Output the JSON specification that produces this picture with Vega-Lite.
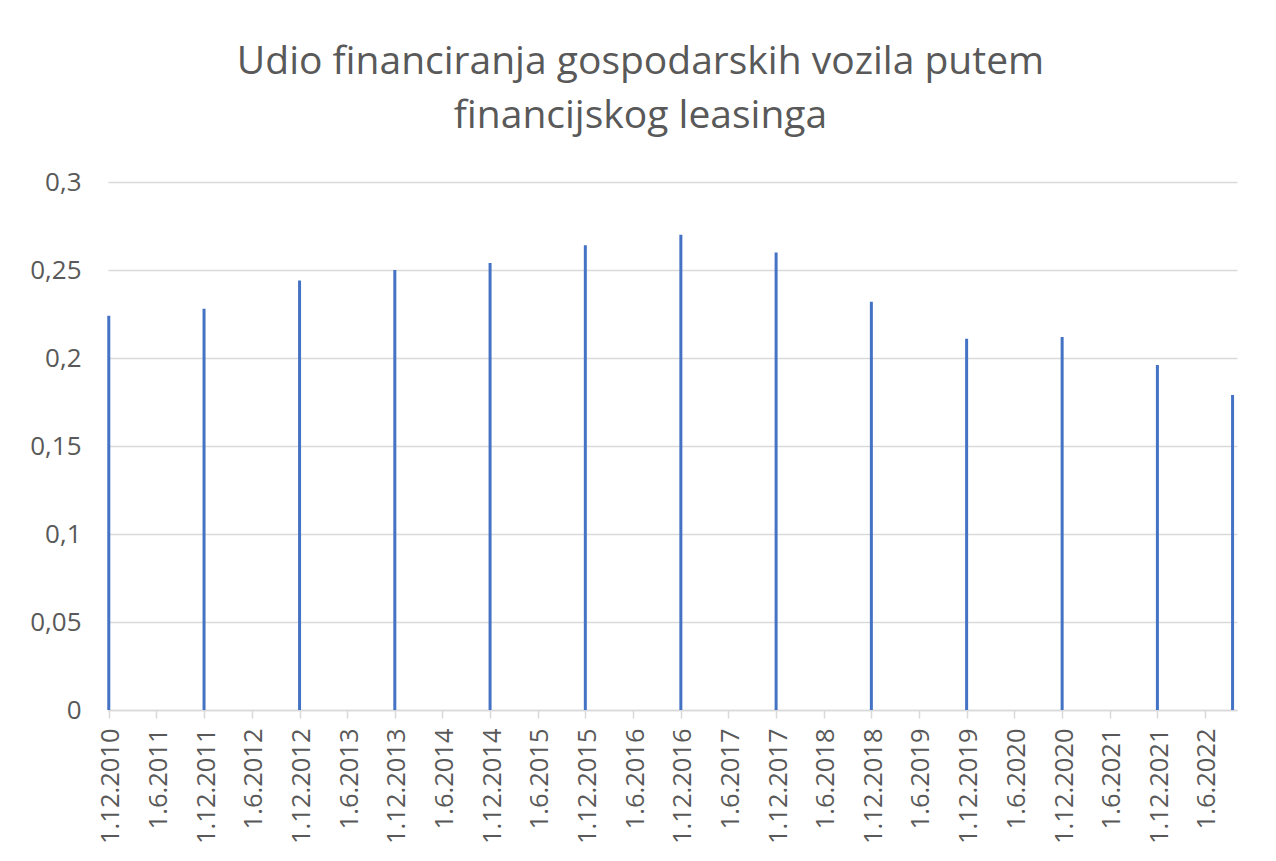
{
  "$schema": "https://vega.github.io/schema/vega-lite/v6.json",
  "width": 1129,
  "height": 528,
  "autosize": {"type": "none"},
  "padding": {"left": 108, "top": 182, "right": 39, "bottom": 151},
  "background": "white",
  "title": {
    "text": ["Udio financiranja gospodarskih vozila putem", "financijskog leasinga"],
    "font": "Open Sans",
    "fontSize": 39,
    "fontWeight": "normal",
    "color": "#595959",
    "anchor": "middle",
    "dx": -32,
    "lineHeight": 54,
    "offset": 33
  },
  "data": {
    "values": [
      {"date": "2010-12-01", "share": 0.224},
      {"date": "2011-12-01", "share": 0.228},
      {"date": "2012-12-01", "share": 0.244},
      {"date": "2013-12-01", "share": 0.25},
      {"date": "2014-12-01", "share": 0.254},
      {"date": "2015-12-01", "share": 0.264},
      {"date": "2016-12-01", "share": 0.27},
      {"date": "2017-12-01", "share": 0.26},
      {"date": "2018-12-01", "share": 0.232},
      {"date": "2019-12-01", "share": 0.211},
      {"date": "2020-12-01", "share": 0.212},
      {"date": "2021-12-01", "share": 0.196},
      {"date": "2022-09-15", "share": 0.179}
    ],
    "format": {"parse": {"date": "utc:'%Y-%m-%d'"}}
  },
  "mark": {"type": "bar", "size": 3, "color": "#4472C4"},
  "encoding": {
    "x": {
      "field": "date",
      "type": "temporal",
      "scale": {
        "type": "utc",
        "padding": 0,
        "domain": [
          {"year": 2010, "month": 11, "date": 28, "utc": true},
          {"year": 2022, "month": 10, "date": 2, "utc": true}
        ]
      },
      "axis": {
        "title": null,
        "values": [
          {"year": 2010, "month": 12, "date": 1, "utc": true},
          {"year": 2011, "month": 6, "date": 1, "utc": true},
          {"year": 2011, "month": 12, "date": 1, "utc": true},
          {"year": 2012, "month": 6, "date": 1, "utc": true},
          {"year": 2012, "month": 12, "date": 1, "utc": true},
          {"year": 2013, "month": 6, "date": 1, "utc": true},
          {"year": 2013, "month": 12, "date": 1, "utc": true},
          {"year": 2014, "month": 6, "date": 1, "utc": true},
          {"year": 2014, "month": 12, "date": 1, "utc": true},
          {"year": 2015, "month": 6, "date": 1, "utc": true},
          {"year": 2015, "month": 12, "date": 1, "utc": true},
          {"year": 2016, "month": 6, "date": 1, "utc": true},
          {"year": 2016, "month": 12, "date": 1, "utc": true},
          {"year": 2017, "month": 6, "date": 1, "utc": true},
          {"year": 2017, "month": 12, "date": 1, "utc": true},
          {"year": 2018, "month": 6, "date": 1, "utc": true},
          {"year": 2018, "month": 12, "date": 1, "utc": true},
          {"year": 2019, "month": 6, "date": 1, "utc": true},
          {"year": 2019, "month": 12, "date": 1, "utc": true},
          {"year": 2020, "month": 6, "date": 1, "utc": true},
          {"year": 2020, "month": 12, "date": 1, "utc": true},
          {"year": 2021, "month": 6, "date": 1, "utc": true},
          {"year": 2021, "month": 12, "date": 1, "utc": true},
          {"year": 2022, "month": 6, "date": 1, "utc": true}
        ],
        "labelExpr": "utcFormat(datum.value, '%-d.%-m.%Y')",
        "labelAngle": -90,
        "labelFont": "Open Sans",
        "labelFontSize": 25.5,
        "labelColor": "#595959",
        "labelPadding": 10,
        "labelOffset": 2,
        "labelOverlap": false,
        "labelFlush": false,
        "grid": false,
        "domainColor": "#d9d9d9",
        "domainWidth": 1.5,
        "tickColor": "#d9d9d9",
        "tickWidth": 1.5,
        "tickSize": 8
      }
    },
    "y": {
      "field": "share",
      "type": "quantitative",
      "scale": {"domain": [0, 0.3], "nice": false, "zero": true},
      "axis": {
        "title": null,
        "values": [0, 0.05, 0.1, 0.15, 0.2, 0.25, 0.3],
        "labelExpr": "replace(format(datum.value, ''), '.', ',')",
        "labelFont": "Open Sans",
        "labelFontSize": 26,
        "labelColor": "#595959",
        "labelPadding": 27,
        "ticks": false,
        "domain": false,
        "grid": true,
        "gridColor": "#d9d9d9",
        "gridWidth": 1.5
      }
    }
  },
  "config": {
    "view": {"stroke": null}
  }
}
